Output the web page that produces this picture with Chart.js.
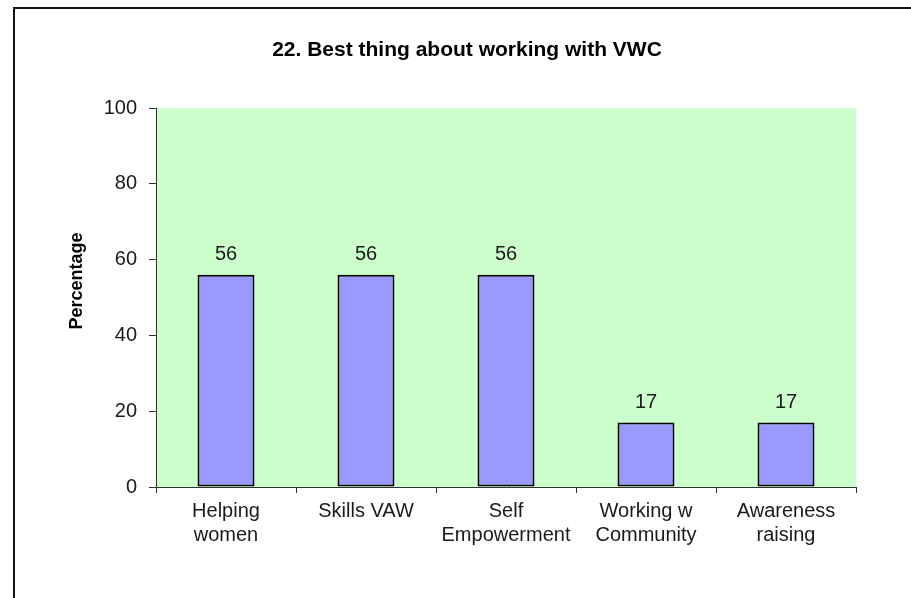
<!DOCTYPE html>
<html>
<head>
<meta charset="utf-8">
<script src="https://cdn.jsdelivr.net/npm/chart.js@4"></script>
<style>
  html, body { margin: 0; padding: 0; background: #fff; overflow: hidden; }
  #wrap { position: relative; width: 911px; height: 598px; }
  #frame { position: absolute; left: 13px; top: 7px; width: 1000px; height: 700px; border: 2px solid #111; }
  canvas { position: absolute; left: 0; top: 0; }
</style>
</head>
<body>
<div id="wrap">
  <div id="frame"></div>
  <canvas id="chart" width="911" height="598"></canvas>
</div>
<script>
// Donnees du graphique
const categories = [
    ['Helping', 'women'],
    'Skills VAW',
    ['Self', 'Empowerment'],
    ['Working w', 'Community'],
    ['Awareness', 'raising']
];
const percentages = [56, 56, 56, 17, 17];
const yMin = 0;
const yMax = 100;
const yStep = 20;

const chartTitle = '22. Best thing about working with VWC';
const yAxisTitle = 'Percentage';

const FONT = "Arial, 'Liberation Sans', sans-serif";

// Fond vert de la zone de trace
const plotBackground = {
    id: 'plotBackground',
    beforeDraw(chart) {
        const { ctx, chartArea } = chart;
        ctx.save();
        ctx.fillStyle = '#CCFFCC';
        ctx.fillRect(chartArea.left, chartArea.top, chartArea.right - chartArea.left, chartArea.bottom - chartArea.top);
        ctx.restore();
    }
};

// Titres (place comme dans l'original, un peu decale)
const titles = {
    id: 'titles',
    afterDraw(chart) {
        const { ctx } = chart;
        ctx.save();
        ctx.fillStyle = '#000';
        ctx.textAlign = 'center';
        ctx.textBaseline = 'alphabetic';
        ctx.font = 'bold 21px ' + FONT;
        ctx.fillText(chartTitle, 467, 56);

        ctx.translate(82, 281);
        ctx.rotate(-Math.PI / 2);
        ctx.font = 'bold 18px ' + FONT;
        ctx.fillText(yAxisTitle, 0, 0);
        ctx.restore();
    }
};

// Valeurs au-dessus des barres
const valueLabels = {
    id: 'valueLabels',
    afterDatasetsDraw(chart) {
        const { ctx } = chart;
        const meta = chart.getDatasetMeta(0);
        ctx.save();
        ctx.font = '20px ' + FONT;
        ctx.fillStyle = '#1a1a1a';
        ctx.textAlign = 'center';
        ctx.textBaseline = 'alphabetic';
        meta.data.forEach((bar, i) => {
            ctx.fillText(String(percentages[i]), bar.x, bar.y - 15);
        });
        ctx.restore();
    }
};

const ctx = document.getElementById('chart').getContext('2d');
new Chart(ctx, {
    type: 'bar',
    data: {
        labels: categories,
        datasets: [{
            data: percentages,
            backgroundColor: '#9999FF',
            borderColor: '#000',
            borderWidth: 2,
            borderSkipped: false,
            barPercentage: 0.407,
            categoryPercentage: 1
        }]
    },
    options: {
        responsive: false,
        animation: false,
        layout: { padding: { left: 0, right: 55, top: 108, bottom: 0 } },
        plugins: {
            legend: { display: false },
            tooltip: { enabled: false },
            title: { display: false }
        },
        scales: {
            x: {
                grid: {
                    display: true,
                    drawOnChartArea: false,
                    drawTicks: true,
                    tickLength: 6,
                    color: '#333',
                    lineWidth: 1,
                    offset: true
                },
                border: { display: true, color: '#333', width: 1 },
                ticks: {
                    color: '#1a1a1a',
                    padding: 6,
                    maxRotation: 0,
                    autoSkip: false,
                    font: { family: FONT, size: 20, lineHeight: 1.2 }
                },
                afterFit(scale) { scale.height = 111; }
            },
            y: {
                min: yMin,
                max: yMax,
                grid: {
                    display: true,
                    drawOnChartArea: false,
                    drawTicks: true,
                    tickLength: 7,
                    color: '#333',
                    lineWidth: 1
                },
                border: { display: true, color: '#333', width: 1 },
                ticks: {
                    stepSize: yStep,
                    color: '#1a1a1a',
                    padding: 12,
                    font: { family: FONT, size: 20 }
                },
                afterFit(scale) { scale.width = 156; }
            }
        }
    },
    plugins: [plotBackground, valueLabels, titles]
});
</script>
</body>
</html>
